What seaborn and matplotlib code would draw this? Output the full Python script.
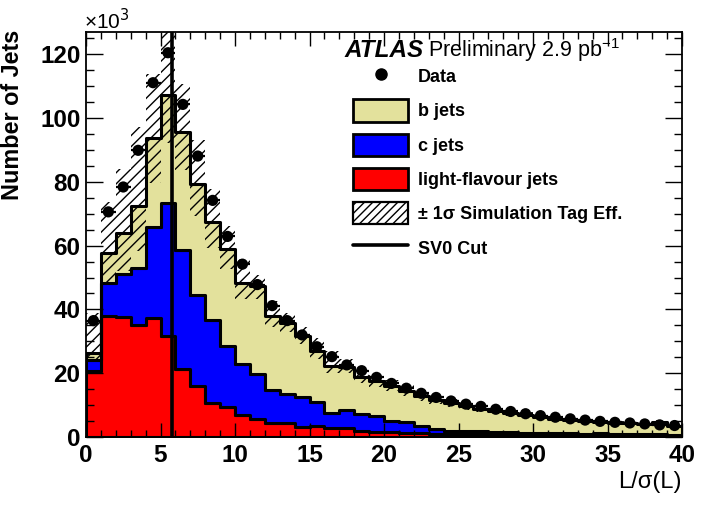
import numpy as np
import pandas as pd
import matplotlib
matplotlib.use("Agg")
import matplotlib.pyplot as plt
import seaborn as sns
from matplotlib.patches import Patch
from matplotlib.lines import Line2D
from matplotlib.ticker import MultipleLocator

# ---------------- data (thousands of jets per unit bin of L/sigma(L)) ----------------
bin_edges = list(range(0, 41))
light = [20.7, 38.0, 37.5, 35.2, 37.2, 31.7, 21.2, 16.0, 10.8, 9.5,
         6.9, 5.8, 4.3, 4.3, 3.2, 3.5, 2.7, 2.7, 1.9, 1.7,
         1.5, 1.3, 1.1, 1.0, 0.9, 0.8, 0.8, 0.7, 0.6, 0.6,
         0.5, 0.5, 0.5, 0.4, 0.4, 0.4, 0.4, 0.4, 0.4, 0.4]
cjets = [3.3, 10.2, 13.5, 17.7, 28.8, 41.7, 37.5, 28.6, 26.0, 19.0,
         16.1, 14.1, 10.4, 9.3, 9.4, 7.5, 4.7, 5.7, 5.3, 4.8,
         3.5, 3.3, 2.2, 1.4, 1.1, 1.1, 1.0, 0.9, 0.9, 0.7,
         0.9, 0.7, 0.7, 0.6, 0.7, 0.5, 0.5, 0.4, 0.6, 0.3]
bjets = [2.3, 9.4, 13.0, 19.4, 27.8, 33.9, 37.0, 34.6, 30.5, 30.3,
         25.4, 27.5, 23.3, 22.3, 19.2, 16.1, 15.0, 13.6, 11.6, 11.0,
         11.0, 9.9, 9.5, 9.2, 8.6, 7.7, 7.0, 6.4, 5.9, 5.5,
         4.9, 4.6, 4.2, 4.0, 3.6, 3.5, 3.4, 3.2, 3.6, 2.9]
data = [36.5, 70.6, 78.4, 89.9, 111.1, 120.5, 104.3, 88.1, 74.2, 62.9,
        54.2, 47.8, 41.2, 36.5, 32.0, 28.3, 25.2, 22.6, 20.8, 18.7,
        16.8, 15.3, 13.7, 12.4, 11.3, 10.3, 9.6, 8.7, 8.0, 7.3,
        6.7, 6.2, 5.7, 5.3, 4.9, 4.6, 4.4, 4.1, 3.8, 3.6]
unc_up = [12.5, 16.0, 20.0, 25.0, 20.0, 20.0, 15.0, 14.0, 10.5, 7.5,
          7.5, 3.5, 4.7, 3.0, 2.8, 3.8, 4.7, 2.5, 2.2, 2.0,
          1.8, 1.7, 1.6, 1.5, 1.4, 1.3, 1.2, 1.1, 1.0, 0.9,
          0.8, 0.8, 0.7, 0.7, 0.6, 0.6, 0.6, 0.5, 0.6, 0.5]
unc_dn = [2.5, 9.0, 12.0, 14.0, 14.0, 15.0, 12.0, 10.0, 8.0, 6.0,
          5.0, 4.0, 3.5, 3.0, 2.7, 2.5, 2.2, 2.0, 1.8, 1.7,
          1.6, 1.5, 1.4, 1.3, 1.2, 1.1, 1.0, 0.9, 0.9, 0.8,
          0.7, 0.7, 0.6, 0.6, 0.6, 0.5, 0.5, 0.5, 0.5, 0.4]
sv0_cut = 5.75
flavours = ["b jets", "c jets", "light-flavour jets"]
x_ticks = [0, 5, 10, 15, 20, 25, 30, 35, 40]
y_ticks = [0, 20, 40, 60, 80, 100, 120]

col_b = "#e3e19c"
col_c = "#0000ff"
col_l = "#ff0000"

sns.set_theme(style="ticks")
plt.rcParams["font.family"] = ["Liberation Sans", "DejaVu Sans"]
plt.rcParams["hatch.linewidth"] = 1.0
plt.rcParams["text.color"] = "black"
plt.rcParams["xtick.color"] = "black"
plt.rcParams["ytick.color"] = "black"
plt.rcParams["xtick.labelcolor"] = "black"
plt.rcParams["ytick.labelcolor"] = "black"

fig = plt.figure(figsize=(7.07, 5.12), dpi=100)
ax = fig.add_axes([86 / 707, 1 - 437 / 512, (682 - 86) / 707, (437 - 32) / 512])

centers = [(bin_edges[i] + bin_edges[i + 1]) / 2 for i in range(len(bin_edges) - 1)]
n = len(centers)
df = pd.DataFrame({
    "x": np.tile(centers, 3),
    "w": np.concatenate([bjets, cjets, light]),
    "flav": np.repeat(flavours, n),
})
sns.histplot(data=df, x="x", weights="w", hue="flav", hue_order=flavours,
             multiple="stack", bins=bin_edges, element="step", fill=True,
             palette={"b jets": col_b, "c jets": col_c, "light-flavour jets": col_l},
             alpha=1, edgecolor="black", linewidth=2.2, legend=False, ax=ax, zorder=2)

edges = np.array(bin_edges, dtype=float)
total = np.array(light) + np.array(cjets) + np.array(bjets)
upper = total + np.array(unc_up)
lower = total - np.array(unc_dn)
ax.stairs(upper, edges, baseline=lower, fill=True, facecolor="none",
          edgecolor="black", hatch="///", linewidth=0, zorder=3)

ax.errorbar(centers, data, xerr=0.5, fmt="none", ecolor="black", elinewidth=1.6, zorder=4)
sns.scatterplot(x=centers, y=data, color="black", s=65, edgecolor="none",
                ax=ax, zorder=5)
ax.axvline(sv0_cut, color="black", lw=2.6, zorder=6)

ax.set_xlim(0, 40)
ax.set_ylim(0, 127)
ax.set_xticks(x_ticks)
ax.set_yticks(y_ticks)
ax.xaxis.set_minor_locator(MultipleLocator(1))
ax.yaxis.set_minor_locator(MultipleLocator(5))
ax.tick_params(which="both", direction="in", top=True, right=True, width=1.0,
               color="black", labelcolor="black", labelsize=17.5)
ax.tick_params(axis="y", which="major", length=12, pad=4)
ax.tick_params(axis="y", which="minor", length=6)
ax.tick_params(axis="x", which="major", length=10, pad=5)
ax.tick_params(axis="x", which="minor", length=5)
for lab in ax.get_xticklabels() + ax.get_yticklabels():
    lab.set_fontweight("bold")
for s in ax.spines.values():
    s.set_linewidth(1.3)
    s.set_color("black")
    s.set_zorder(10)
ax.set_axisbelow(False)
ax.set_xlabel("")
ax.set_ylabel("")

fig.text(13 / 707, 1 - 30 / 512, "Number of Jets", rotation=90, ha="center", va="top",
         fontsize=16.8, fontweight="bold", color="black")
fig.text(682 / 707, 1 - 482 / 512, "L/σ(L)", ha="right", va="center", fontsize=17,
         color="black")
fig.text(84 / 707, 1 - 29 / 512, r"×10$^{3}$", ha="left", va="baseline", fontsize=15,
         color="black")

fig.text(344 / 707, 1 - 57 / 512, "ATLAS", ha="left", va="baseline", fontsize=17.5,
         fontweight="bold", fontstyle="italic", color="black")
fig.text(428 / 707, 1 - 57 / 512, r"Preliminary 2.9 pb$^{\mathregular{-1}}$", ha="left",
         va="baseline", fontsize=15.5, color="black")

handles = [
    Line2D([], [], marker="o", color="black", linestyle="none", markersize=8),
    Patch(facecolor=col_b, edgecolor="black", linewidth=2),
    Patch(facecolor=col_c, edgecolor="black", linewidth=2),
    Patch(facecolor=col_l, edgecolor="black", linewidth=2),
    Patch(facecolor="white", edgecolor="black", hatch="////", linewidth=1.6),
    Line2D([], [], color="black", lw=2.6),
]
labels = ["Data", "b jets", "c jets", "light-flavour jets",
          "± 1σ Simulation Tag Eff.", "SV0 Cut"]
fs = 13
fpx = fs * 100 / 72
leg = fig.legend(handles, labels, loc="upper left",
                 bbox_to_anchor=(353 / 707, 1 - 65 / 512), bbox_transform=fig.transFigure,
                 frameon=False, borderpad=0, borderaxespad=0,
                 handlelength=55 / fpx, handleheight=27.5 / fpx, labelspacing=12 / fpx,
                 handletextpad=10 / fpx, prop={"size": fs, "weight": "bold"})
for t in leg.get_texts():
    t.set_color("black")

fig.savefig("out.png", dpi=100)
